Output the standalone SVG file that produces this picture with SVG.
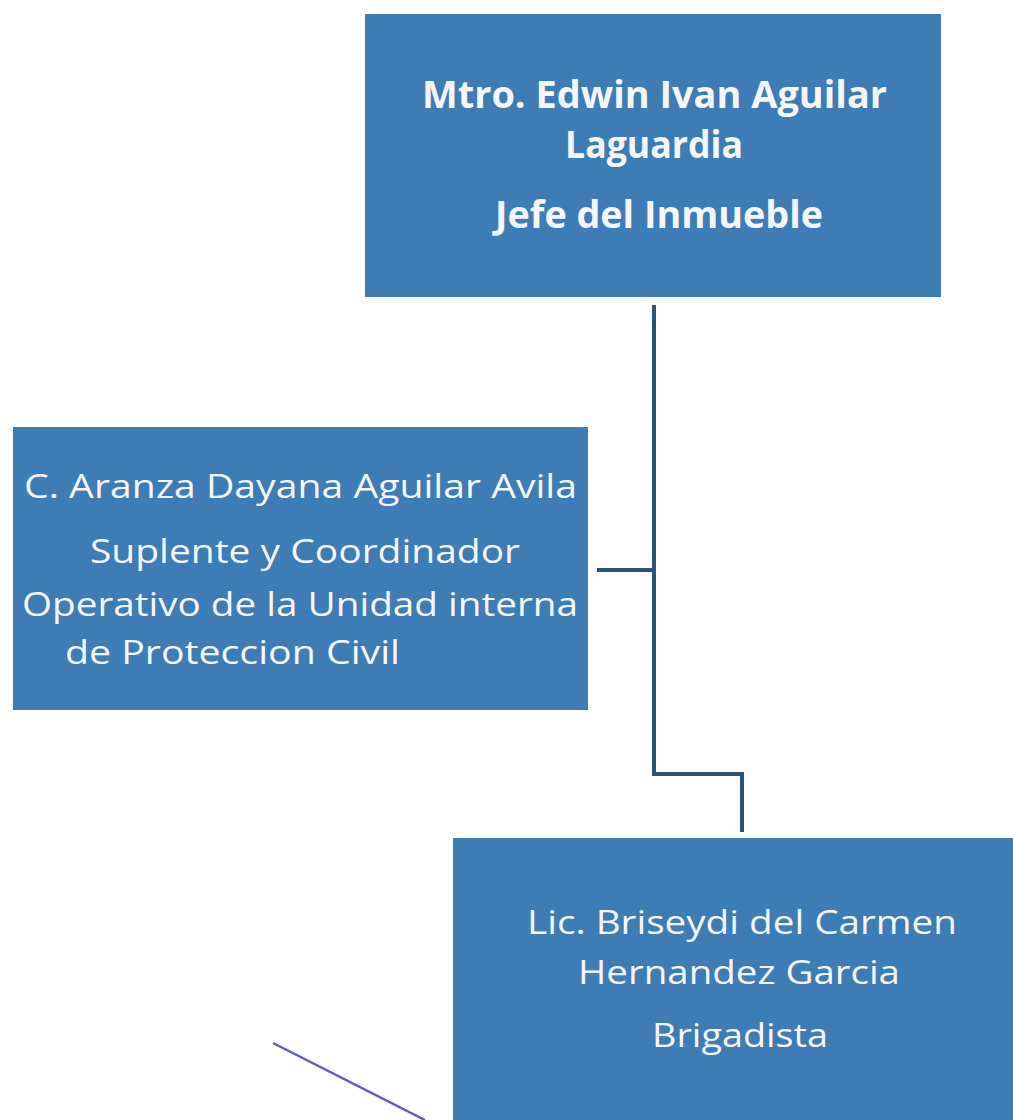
<svg xmlns="http://www.w3.org/2000/svg" width="1013" height="1120" viewBox="0 0 1013 1120">
<style>
.box{fill:#3d7cb4;}
.t{font-family:"Open Sans","Liberation Sans",sans-serif;fill:#f4f7fa;font-size:33px;}
.b{font-weight:bold;font-size:37px;}
.conn{fill:none;stroke:#2c5478;stroke-width:4;stroke-linejoin:miter;}
</style>
<rect width="1013" height="1120" fill="#ffffff"/>
<g id="connectors">
<path class="conn" d="M654,305 V774 H742 V832"/>
<path class="conn" d="M597,570 H654"/>
</g>
<g id="node-jefe">
<rect class="box" x="365" y="14" width="576" height="283"/>
<text class="t b" x="422" y="108" textLength="465" lengthAdjust="spacingAndGlyphs">Mtro. Edwin Ivan Aguilar</text>
<text class="t b" x="565" y="158" textLength="178" lengthAdjust="spacingAndGlyphs">Laguardia</text>
<text class="t b" x="495" y="228" textLength="328" lengthAdjust="spacingAndGlyphs">Jefe del Inmueble</text>
</g>
<g id="node-suplente">
<rect class="box" x="13" y="427" width="575" height="283"/>
<text class="t" x="24" y="498" textLength="553" lengthAdjust="spacingAndGlyphs">C. Aranza Dayana Aguilar Avila</text>
<text class="t" x="90" y="563" textLength="430" lengthAdjust="spacingAndGlyphs">Suplente y Coordinador</text>
<text class="t" x="22" y="616" textLength="556" lengthAdjust="spacingAndGlyphs">Operativo de la Unidad interna</text>
<text class="t" x="65" y="664" textLength="335" lengthAdjust="spacingAndGlyphs">de Proteccion Civil</text>
</g>
<g id="node-brigadista">
<rect class="box" x="453" y="838" width="560" height="282"/>
<text class="t" x="527" y="934" textLength="430" lengthAdjust="spacingAndGlyphs">Lic. Briseydi del Carmen</text>
<text class="t" x="578" y="984" textLength="322" lengthAdjust="spacingAndGlyphs">Hernandez Garcia</text>
<text class="t" x="652" y="1047" textLength="176" lengthAdjust="spacingAndGlyphs">Brigadista</text>
</g>
<path d="M273,1043 L425,1120" fill="none" stroke="#5b5bcc" stroke-width="2.5"/>
</svg>
